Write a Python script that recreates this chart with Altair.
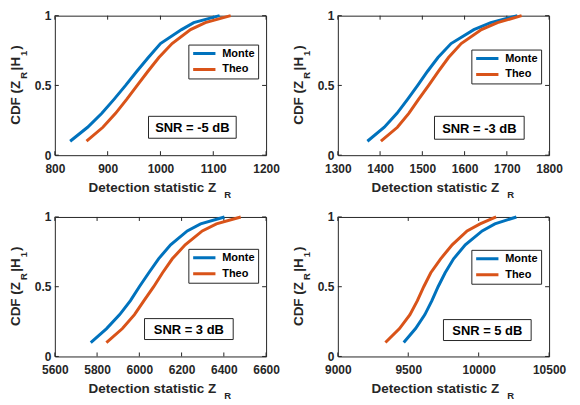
import altair as alt
import pandas as pd

FONT = "Liberation Sans"
AXC = "#262626"

levels = [0.1, 0.2, 0.3, 0.4, 0.5, 0.6, 0.7, 0.8, 0.9, 0.95, 1.0]
series_names = ["Monte", "Theo"]
series_colors = ["#0072BD", "#D95319"]

p1_monte = [829, 862, 889, 912, 934, 955, 977, 1000, 1040, 1063, 1112]
p1_theo = [860, 891, 915, 936, 956, 976, 997, 1022, 1057, 1085, 1133]
p2_monte = [1370, 1410, 1440, 1465, 1489, 1512, 1537, 1568, 1622, 1662, 1725]
p2_theo = [1402, 1441, 1468, 1491, 1515, 1538, 1562, 1592, 1640, 1678, 1735]
p3_monte = [5770, 5845, 5907, 5958, 6000, 6045, 6091, 6148, 6227, 6290, 6403]
p3_theo = [5844, 5920, 5977, 6022, 6068, 6110, 6156, 6217, 6298, 6365, 6480]
p4_monte = [9468, 9552, 9618, 9668, 9712, 9762, 9822, 9905, 10025, 10115, 10268]
p4_theo = [9338, 9438, 9512, 9565, 9610, 9660, 9730, 9812, 9918, 10010, 10124]

snr_labels = ["SNR = -5 dB", "SNR = -3 dB", "SNR = 3 dB", "SNR = 5 dB"]
x_domains = [[800, 1200], [1300, 1800], [5600, 6600], [9000, 10500]]
x_ticks = [
    [800, 900, 1000, 1100, 1200],
    [1300, 1400, 1500, 1600, 1700, 1800],
    [5600, 5800, 6000, 6200, 6400, 6600],
    [9000, 9500, 10000, 10500],
]
y_ticks = [0, 0.5, 1]

monte_all = [p1_monte, p2_monte, p3_monte, p4_monte]
theo_all = [p1_theo, p2_theo, p3_theo, p4_theo]

W, H = 212, 140
TL = 4  # inward tick length
snr_boxes = [(94, 182, 101, 123), (97, 187, 101, 124), (90, 179, 102, 123), (106, 194, 103, 124)]
legend_y = [29, 34, 32, 33]

one = pd.DataFrame({"k": [0]})


def txt(s, x, y, size, angle=0, align="left"):
    kw = dict(text=s, font=FONT, fontWeight="bold", fontSize=size, color=AXC,
              align=align, baseline="alphabetic")
    if angle:
        kw["angle"] = angle
    return alt.Chart(one).mark_text(**kw).encode(x=alt.value(x), y=alt.value(y))


def panel(i):
    n = len(levels)
    df = pd.DataFrame({
        "x": monte_all[i] + theo_all[i],
        "y": levels + levels,
        "series": [series_names[0]] * n + [series_names[1]] * n,
    })
    xs = alt.Scale(domain=x_domains[i], nice=False, zero=False)
    ys = alt.Scale(domain=[0, 1], nice=False, zero=False)
    xaxis = alt.Axis(values=x_ticks[i], format="d", ticks=False, tickSize=0, domain=False,
                     grid=False, labelFlush=False, labelOverlap=False, labelPadding=8,
                     labelFont=FONT, labelFontWeight="bold", labelFontSize=12,
                     labelColor=AXC, title=None)
    yaxis = alt.Axis(values=y_ticks, format="~g", ticks=False, tickSize=0, domain=False,
                     grid=False, labelFlush=False, labelOverlap=False, labelPadding=4,
                     labelFont=FONT, labelFontWeight="bold", labelFontSize=12,
                     labelColor=AXC, title=None)
    X = lambda: alt.X("x:Q", scale=xs, axis=xaxis)
    Y = lambda: alt.Y("y:Q", scale=ys, axis=yaxis)

    line = alt.Chart(df).mark_line(strokeWidth=3).encode(
        x=X(), y=Y(),
        color=alt.Color("series:N",
                        scale=alt.Scale(domain=series_names, range=series_colors),
                        legend=alt.Legend(orient="none", legendX=134, legendY=legend_y[i],
                                          title=None, strokeColor=AXC, fillColor="white",
                                          padding=3, symbolType="stroke",
                                          symbolStrokeWidth=3, symbolSize=500,
                                          clipHeight=12, rowPadding=4, labelOffset=5,
                                          labelFont=FONT, labelFontWeight="bold",
                                          labelFontSize=11, labelColor="black")),
    )

    xt = pd.DataFrame({"x": x_ticks[i]})
    yt = pd.DataFrame({"y": y_ticks})
    rule = dict(color=AXC, strokeWidth=1)
    tb = alt.Chart(xt).mark_rule(**rule).encode(x=X(), y=alt.value(H), y2=alt.value(H - TL))
    tt = alt.Chart(xt).mark_rule(**rule).encode(x=X(), y=alt.value(0), y2=alt.value(TL))
    tl = alt.Chart(yt).mark_rule(**rule).encode(y=Y(), x=alt.value(0), x2=alt.value(TL))
    tr = alt.Chart(yt).mark_rule(**rule).encode(y=Y(), x=alt.value(W - TL), x2=alt.value(W))

    bx0, bx1, by0, by1 = snr_boxes[i]
    sdf = pd.DataFrame({"label": [snr_labels[i]]})
    box = alt.Chart(sdf).mark_rect(fill="white", stroke=AXC, strokeWidth=1).encode(
        x=alt.value(bx0), x2=alt.value(bx1), y=alt.value(by0), y2=alt.value(by1))
    boxt = alt.Chart(sdf).mark_text(font=FONT, fontWeight="bold", fontSize=13, color="black",
                                    align="center", baseline="middle").encode(
        x=alt.value((bx0 + bx1) / 2), y=alt.value((by0 + by1) / 2 + 1), text="label:N")

    # x-axis title with subscript
    xt1 = txt("Detection statistic Z", W / 2 + 56, H + 37, 13.5, align="right")
    xt2 = txt("R", W / 2 + 64, H + 43, 9.5)
    # y-axis title with subscripts (rotated)
    cy = H / 2
    bx, sx = -35.3, -27.5
    yt1 = txt("CDF (Z", bx, cy + 39.5, 13.5, angle=270)
    yt2 = txt("R", sx, cy - 6.7, 9.5, angle=270)
    yt3 = txt("|H", bx, cy - 15.1, 13.5, angle=270)
    yt4 = txt("1", sx, cy - 29.6, 9.5, angle=270)
    yt5 = txt(")", bx, cy - 35.9, 13.5, angle=270)

    return alt.layer(tb, tt, tl, tr, line, box, boxt, xt1, xt2, yt1, yt2, yt3, yt4, yt5).properties(
        width=W, height=H)


chart = alt.concat(*[panel(i) for i in range(4)], columns=2,
                   spacing={"row": 62, "column": 72}, bounds="flush").resolve_scale(
    color="independent").properties(
    padding={"left": 0, "top": 0, "right": 5, "bottom": 0},
    background="white",
).configure_view(stroke=AXC, strokeWidth=1)

chart.save("out.html", embed_options={"renderer": "svg", "actions": False})
